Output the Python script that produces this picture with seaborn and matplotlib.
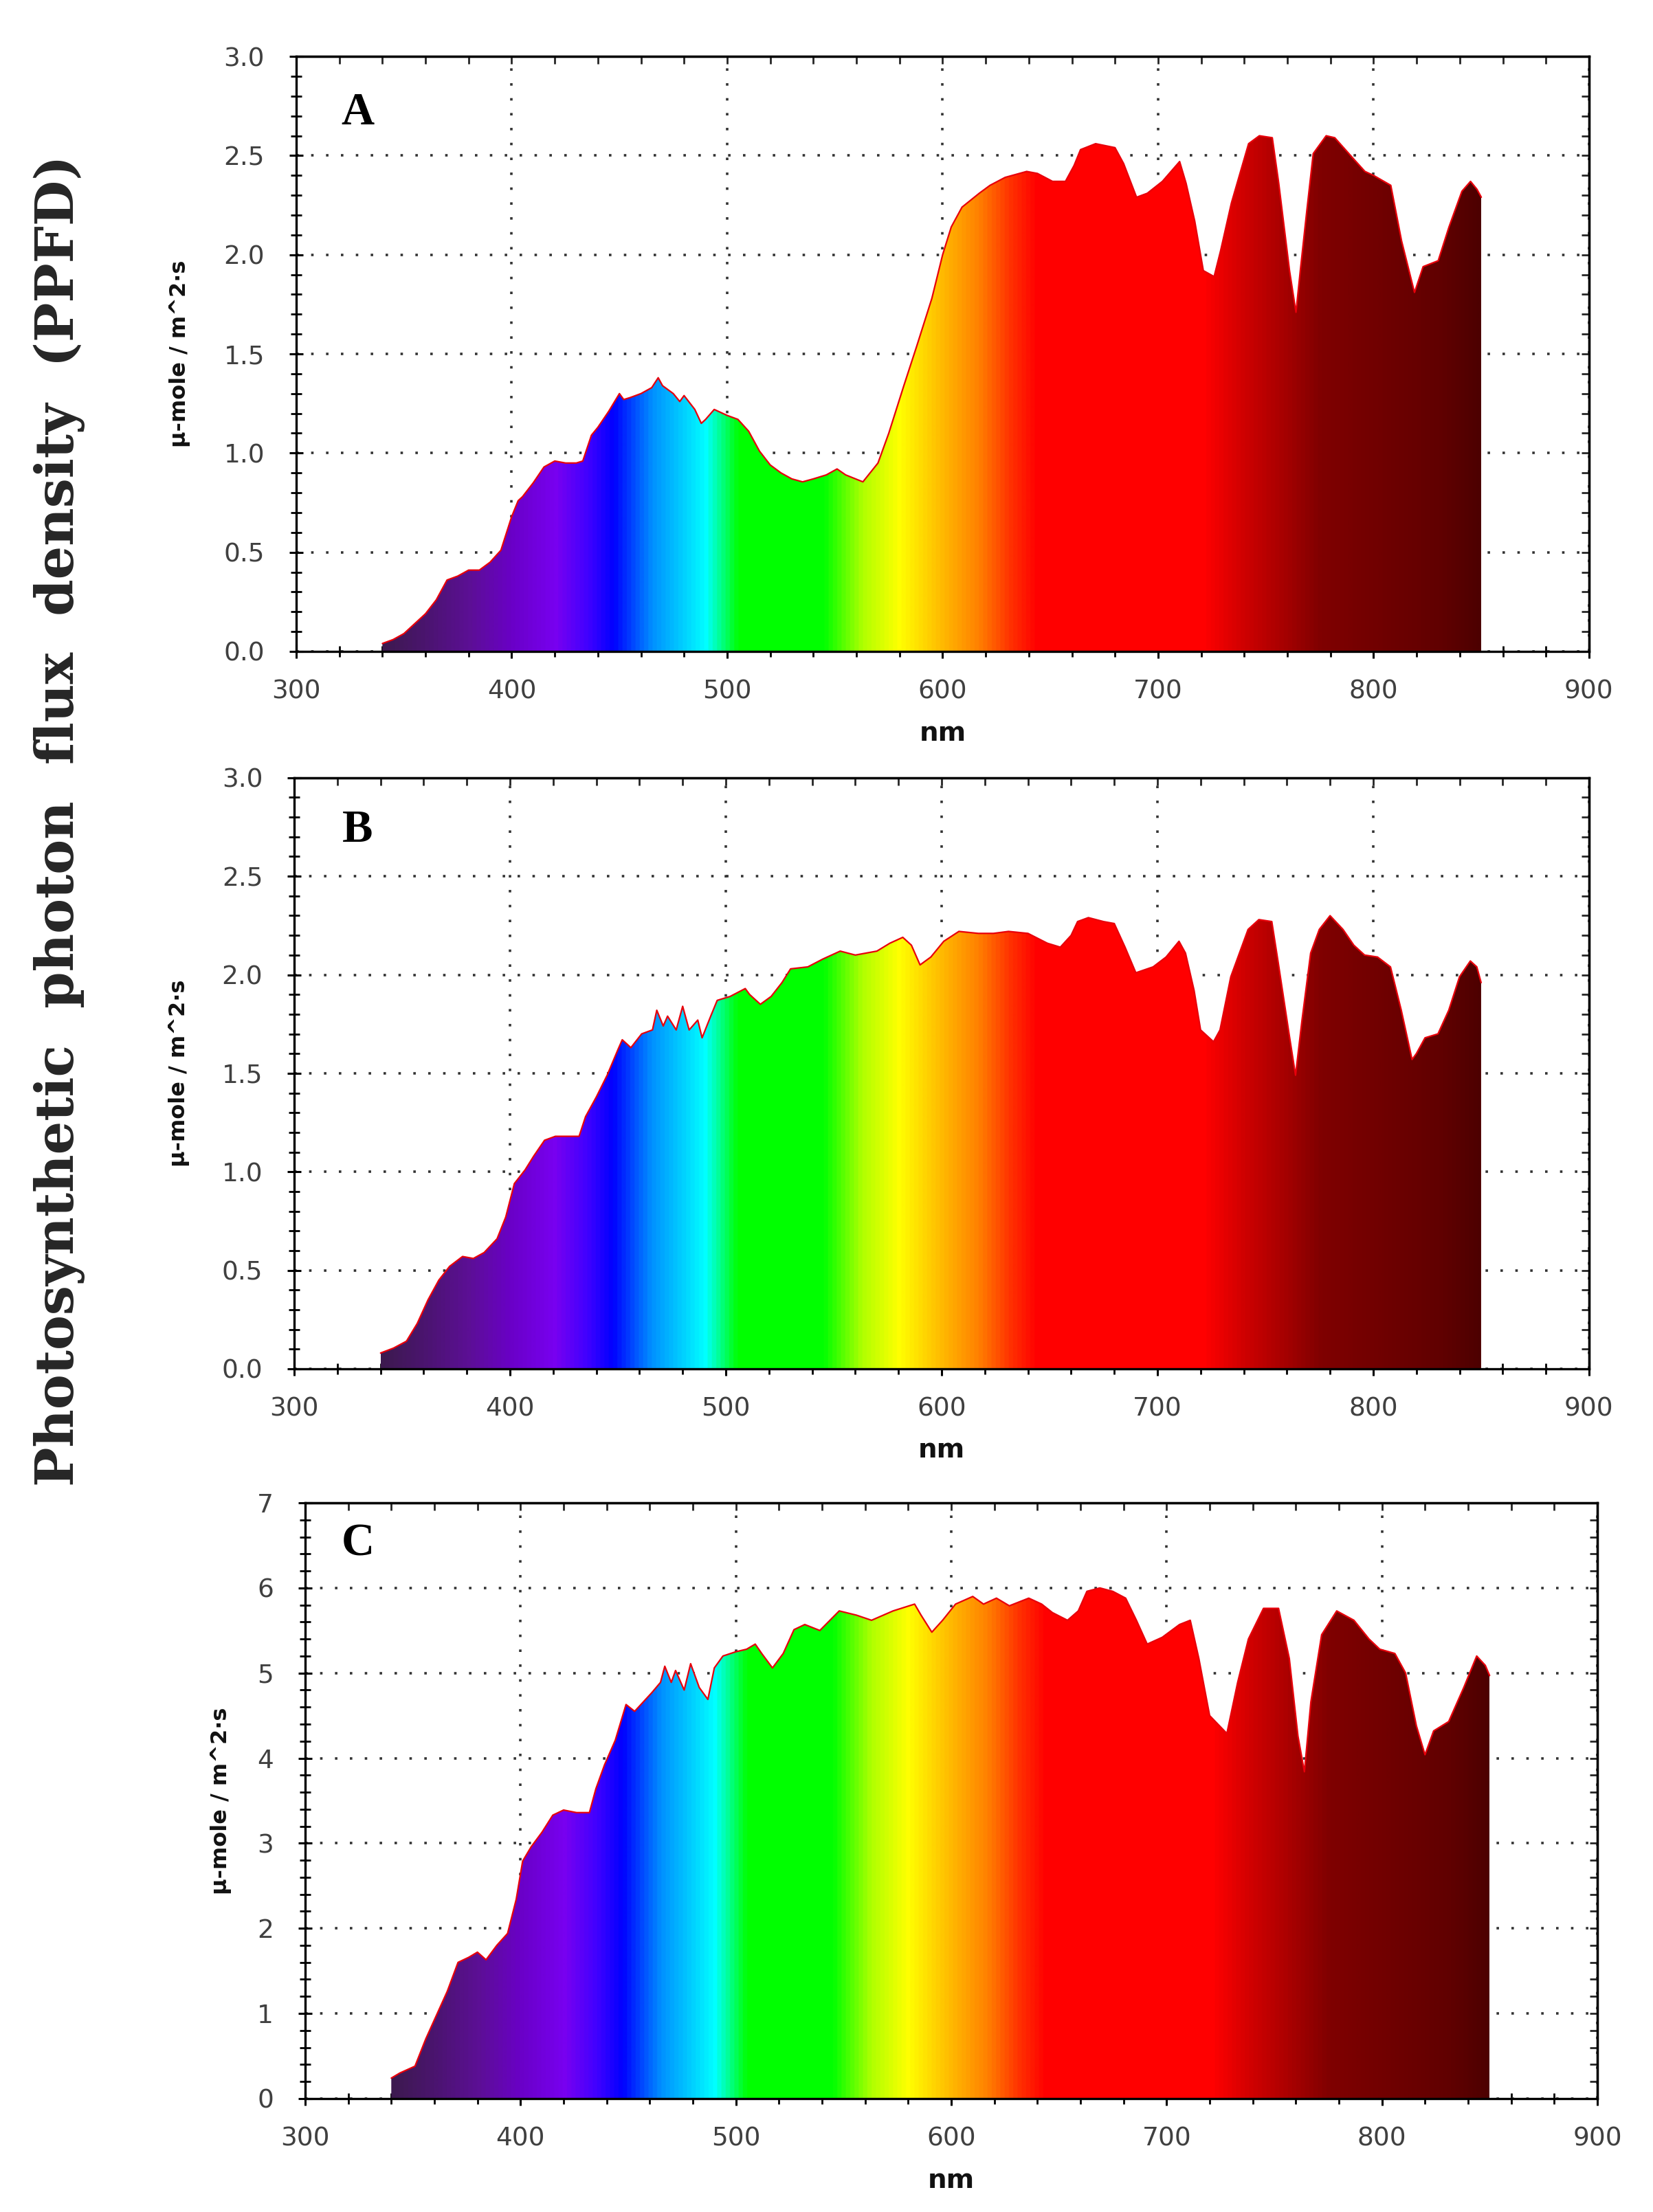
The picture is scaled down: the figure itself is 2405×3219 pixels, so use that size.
import numpy as np
import pandas as pd
import matplotlib
matplotlib.use("Agg")
import matplotlib.pyplot as plt
import seaborn as sns
from matplotlib.colors import LinearSegmentedColormap
from matplotlib.patches import Polygon
from matplotlib.ticker import MultipleLocator, FormatStrFormatter

# ---- spectra (nm, umol/m2/s) ----
wl_a = [340, 345, 350, 355, 360, 365, 370, 375, 380, 385, 390, 395, 400, 403, 405, 410, 415, 420, 425,
        430, 433, 437, 440, 445, 450, 452, 455, 460, 465, 468, 470, 475, 478, 480, 485, 488, 490, 494,
        500, 505, 510, 515, 520, 525, 530, 535, 540, 546, 551, 555, 563, 570, 575, 582, 588, 595, 600,
        604, 609, 617, 622, 629, 639, 644, 651, 657, 661, 664, 671, 680, 684, 690, 695, 702, 710, 713,
        717, 721, 726, 729, 734, 742, 747, 753, 756, 761, 764, 766, 769, 772, 778, 782, 791, 796, 800,
        808, 813, 819, 823, 830, 835, 841, 845, 848, 850]
val_a = [0.04, 0.06, 0.09, 0.14, 0.19, 0.26, 0.36, 0.38, 0.41, 0.41, 0.45, 0.51, 0.68, 0.76, 0.78, 0.85,
         0.93, 0.96, 0.95, 0.95, 0.96, 1.09, 1.13, 1.21, 1.30, 1.27, 1.28, 1.30, 1.33, 1.38, 1.34, 1.30,
         1.26, 1.29, 1.22, 1.15, 1.17, 1.22, 1.19, 1.17, 1.11, 1.01, 0.94, 0.90, 0.87, 0.855, 0.87, 0.89,
         0.92, 0.89, 0.855, 0.95, 1.10, 1.34, 1.54, 1.78, 2.00, 2.14, 2.24, 2.31, 2.35, 2.39, 2.42, 2.41,
         2.37, 2.37, 2.45, 2.53, 2.56, 2.54, 2.46, 2.29, 2.31, 2.37, 2.47, 2.36, 2.17, 1.92, 1.89, 2.02,
         2.26, 2.56, 2.60, 2.59, 2.36, 1.92, 1.71, 1.92, 2.22, 2.51, 2.60, 2.59, 2.48, 2.42, 2.40, 2.35,
         2.07, 1.81, 1.94, 1.97, 2.14, 2.32, 2.37, 2.33, 2.29]

wl_b = [340, 346, 352, 357, 362, 367, 372, 378, 383, 388, 394, 398, 402, 407, 411, 416, 421, 427, 432,
        435, 440, 445, 450, 452, 456, 461, 466, 468, 471, 473, 477, 480, 483, 487, 489, 493, 496, 502,
        509, 511, 516, 521, 526, 530, 538, 545, 553, 560, 570, 576, 582, 586, 590, 595, 601, 608, 617,
        624, 631, 640, 649, 655, 660, 663, 668, 675, 680, 685, 690, 698, 704, 710, 713, 717, 720, 726,
        729, 734, 742, 747, 753, 756, 761, 764, 767, 771, 775, 780, 786, 791, 796, 802, 808, 813, 818,
        820, 824, 830, 835, 840, 845, 848, 850]
val_b = [0.08, 0.105, 0.14, 0.23, 0.35, 0.45, 0.52, 0.57, 0.56, 0.59, 0.66, 0.77, 0.94, 1.01, 1.08, 1.16,
         1.18, 1.18, 1.18, 1.28, 1.38, 1.49, 1.62, 1.67, 1.63, 1.70, 1.72, 1.82, 1.74, 1.79, 1.72, 1.84,
         1.72, 1.77, 1.68, 1.79, 1.87, 1.89, 1.93, 1.90, 1.85, 1.89, 1.96, 2.03, 2.04, 2.08, 2.12, 2.10,
         2.12, 2.16, 2.19, 2.15, 2.05, 2.09, 2.17, 2.22, 2.21, 2.21, 2.22, 2.21, 2.16, 2.14, 2.20, 2.27,
         2.29, 2.27, 2.26, 2.14, 2.01, 2.04, 2.09, 2.17, 2.11, 1.92, 1.72, 1.66, 1.72, 1.99, 2.23, 2.28,
         2.27, 2.06, 1.70, 1.49, 1.77, 2.11, 2.23, 2.30, 2.23, 2.15, 2.10, 2.09, 2.04, 1.82, 1.57, 1.60,
         1.68, 1.70, 1.82, 1.99, 2.07, 2.04, 1.96]

wl_c = [340, 344, 351, 356, 361, 366, 371, 376, 380, 384, 389, 394, 398, 401, 405, 410, 415, 420, 426,
        432, 435, 439, 444, 449, 453, 457, 461, 465, 467, 470, 472, 476, 479, 483, 487, 490, 494, 500,
        505, 509, 512, 517, 522, 527, 532, 539, 548, 556, 563, 573, 583, 586, 591, 596, 602, 610, 615,
        621, 627, 636, 642, 647, 654, 659, 663, 669, 675, 681, 686, 691, 698, 706, 711, 715, 720, 728,
        733, 738, 745, 752, 757, 761, 764, 767, 772, 779, 787, 794, 799, 806, 811, 816, 820, 824, 831,
        838, 844, 848, 850]
val_c = [0.24, 0.30, 0.38, 0.70, 0.98, 1.26, 1.60, 1.66, 1.72, 1.63, 1.80, 1.94, 2.34, 2.79, 2.96, 3.13,
         3.33, 3.39, 3.36, 3.36, 3.64, 3.92, 4.21, 4.63, 4.55, 4.66, 4.77, 4.89, 5.08, 4.89, 5.03, 4.80,
         5.11, 4.83, 4.69, 5.06, 5.20, 5.25, 5.28, 5.34, 5.23, 5.06, 5.23, 5.51, 5.57, 5.50, 5.73, 5.68,
         5.62, 5.73, 5.81, 5.68, 5.48, 5.62, 5.81, 5.90, 5.81, 5.88, 5.79, 5.88, 5.81, 5.71, 5.62, 5.73,
         5.96, 6.00, 5.96, 5.88, 5.62, 5.34, 5.42, 5.57, 5.62, 5.17, 4.50, 4.29, 4.89, 5.40, 5.76, 5.76,
         5.17, 4.26, 3.84, 4.66, 5.45, 5.73, 5.62, 5.40, 5.28, 5.23, 5.00, 4.38, 4.04, 4.32, 4.43, 4.83,
         5.20, 5.09, 4.97]

panel_letters = ["A", "B", "C"]
y_limits = [3.0, 3.0, 7.0]

# spectrum colours used for the fill
spec_nm = [340, 360, 380, 400, 420, 435, 447, 465, 490, 505, 545, 563, 580, 598, 617, 632, 644,
           722, 740, 762, 776, 804, 833, 850]
spec_col = ["#3d1a4f", "#4b1470", "#5c0f95", "#6a00c8", "#7800f0", "#4000ff", "#0000ff", "#0090ff",
            "#00ffff", "#00ff00", "#00ff00", "#b0ff00", "#ffff00", "#ffc000", "#ff8000", "#ff3000",
            "#ff0000", "#ff0000", "#d00000", "#a00000", "#800000", "#700000", "#600000", "#4d0000"]

spec_cmap = LinearSegmentedColormap.from_list(
    "spec", [((w - 340) / 510.0, c) for w, c in zip(spec_nm, spec_col)])

sns.set_style("ticks")
plt.rcParams['font.family'] = ['DejaVu Sans']

fig = plt.figure(figsize=(24.05, 32.19), dpi=100)
fig.patch.set_facecolor("white")

rects = [[0.1792, 0.7055, 0.7821, 0.2690],
         [0.1780, 0.3812, 0.7833, 0.2672],
         [0.1846, 0.0513, 0.7817, 0.2693]]
letter_pos = [(0.035, 0.886), (0.037, 0.892), (0.028, 0.912)]
ylab_x = [-0.090, -0.089, -0.065]


def draw_panel(rect, wl, val, letter, ymax, lpos, ylx):
    ax = fig.add_axes(rect)
    df = pd.DataFrame({"nm": wl, "ppfd": val})

    # rainbow gradient clipped to the area under the curve
    grad = np.linspace(340, 850, 1024)[None, :]
    im = ax.imshow(grad, extent=(340, 850, 0, ymax), aspect="auto", origin="lower",
                   cmap=spec_cmap, vmin=340, vmax=850, interpolation="bilinear", zorder=2)
    verts = np.column_stack([[wl[0]] + list(wl) + [wl[-1]], [0] + list(val) + [0]])
    clip = Polygon(verts, closed=True, transform=ax.transData, fill=False, lw=0)
    ax.add_patch(clip)
    im.set_clip_path(clip)

    sns.lineplot(data=df, x="nm", y="ppfd", ax=ax, color="#e8000b", lw=1.6, zorder=3,
                 estimator=None, sort=False)

    ax.set_xlim(300, 900)
    ax.set_ylim(0, ymax)
    ax.xaxis.set_major_locator(MultipleLocator(100))
    ax.xaxis.set_minor_locator(MultipleLocator(20))
    if ymax > 5:
        ax.yaxis.set_major_locator(MultipleLocator(1))
        ax.yaxis.set_minor_locator(MultipleLocator(0.2))
        ax.yaxis.set_major_formatter(FormatStrFormatter("%d"))
    else:
        ax.yaxis.set_major_locator(MultipleLocator(0.5))
        ax.yaxis.set_minor_locator(MultipleLocator(0.1))
        ax.yaxis.set_major_formatter(FormatStrFormatter("%.1f"))

    ax.set_axisbelow(True)
    ax.grid(which="major", linestyle=(0, (1, 5)), linewidth=2.6, color="#333333")

    for s in ax.spines.values():
        s.set_visible(True)
        s.set_linewidth(2.4)
        s.set_color("black")

    ax.tick_params(which="major", direction="inout", length=14, width=2.2, color="black",
                   labelsize=27, labelcolor="#404040", pad=22)
    ax.tick_params(which="minor", direction="inout", length=11, width=2.0, color="black")
    ax.tick_params(axis="y", pad=26)

    # inward ticks on the top and right edges
    top = ax.secondary_xaxis("top")
    top.xaxis.set_major_locator(MultipleLocator(100))
    top.xaxis.set_minor_locator(MultipleLocator(20))
    top.tick_params(which="both", direction="in", labeltop=False, width=2.0, length=8)
    top.spines["top"].set_linewidth(2.4)
    right = ax.secondary_yaxis("right")
    right.yaxis.set_major_locator(ax.yaxis.get_major_locator())
    right.yaxis.set_minor_locator(ax.yaxis.get_minor_locator())
    right.tick_params(which="both", direction="in", labelright=False, width=2.0, length=8)
    right.spines["right"].set_linewidth(2.4)

    ax.set_xlabel("nm", fontsize=28, fontweight="bold", color="#111111")
    ax.xaxis.set_label_coords(0.5, -0.15)
    ax.xaxis.label.set_va("baseline")
    ax.set_ylabel("\u03bc-mole / m^2\u00b7s", fontsize=23, fontweight="bold", color="#111111")
    ax.yaxis.set_label_coords(ylx, 0.5)
    ax.yaxis.label.set_va("center")

    ax.text(lpos[0], lpos[1], letter, transform=ax.transAxes, fontsize=48, fontweight="bold",
            family="Liberation Serif", va="baseline", ha="left", color="black")
    return ax


datasets = [(wl_a, val_a), (wl_b, val_b), (wl_c, val_c)]
for i in range(3):
    draw_panel(rects[i], datasets[i][0], datasets[i][1], panel_letters[i], y_limits[i],
               letter_pos[i], ylab_x[i])

fig.text(0.0358, 0.629, "Photosynthetic  photon  flux  density  (PPFD)", rotation=90,
         fontsize=55, fontweight="bold", family="DejaVu Serif", ha="center", va="center")

fig.savefig("out.png", dpi=100, facecolor="white")
